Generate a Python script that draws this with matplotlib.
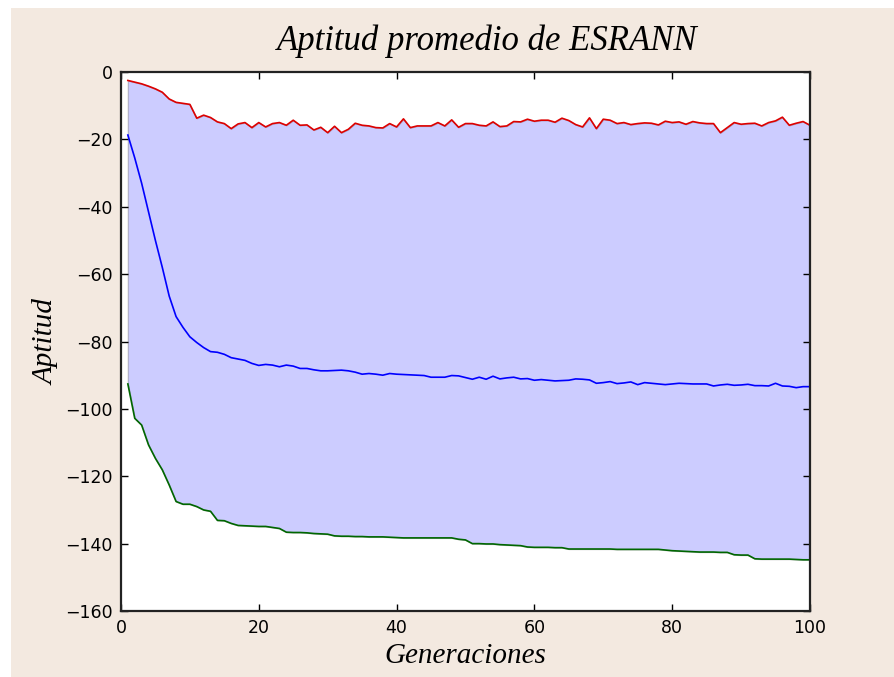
import matplotlib
matplotlib.use('Agg')
import matplotlib.pyplot as plt
from matplotlib.patches import Rectangle

generaciones = list(range(1, 101))

aptitud_max = [
    -2.5, -3.0, -3.5, -4.2, -5.0, -6.0, -8.0, -9.0, -9.3, -9.6,
    -13.7, -12.8, -13.5, -14.8, -15.3, -16.8, -15.4, -15.0, -16.5, -15.0,
    -16.3, -15.3, -15.0, -15.8, -14.3, -15.8, -15.7, -17.2, -16.4, -18.0,
    -16.1, -18.0, -17.0, -15.2, -15.8, -16.0, -16.5, -16.6, -15.3, -16.3,
    -13.9, -16.5, -16.0, -16.0, -16.0, -15.0, -16.0, -14.2, -16.4, -15.3,
    -15.3, -15.8, -16.0, -14.8, -16.2, -16.0, -14.7, -14.8, -14.0, -14.6,
    -14.3, -14.3, -14.9, -13.7, -14.4, -15.6, -16.3, -13.6, -16.8, -14.0,
    -14.3, -15.3, -15.0, -15.6, -15.3, -15.1, -15.2, -15.7, -14.6, -15.0,
    -14.8, -15.5, -14.7, -15.1, -15.3, -15.3, -18.0, -16.5, -15.0, -15.5,
    -15.3, -15.2, -16.0, -15.0, -14.5, -13.4, -15.8, -15.2, -14.7, -15.8,
]

aptitud_media = [
    -18.7, -25.5, -33.0, -41.5, -50.0, -58.0, -66.5, -72.6, -75.8, -78.6,
    -80.3, -81.8, -83.0, -83.2, -83.8, -84.8, -85.2, -85.6, -86.5, -87.1,
    -86.8, -87.0, -87.5, -87.0, -87.3, -88.0, -88.0, -88.4, -88.7, -88.7,
    -88.6, -88.5, -88.7, -89.1, -89.7, -89.5, -89.7, -90.0, -89.5, -89.7,
    -89.8, -89.9, -90.0, -90.1, -90.6, -90.6, -90.6, -90.1, -90.2, -90.7,
    -91.2, -90.6, -91.2, -90.3, -91.1, -90.8, -90.6, -91.1, -91.0, -91.5,
    -91.3, -91.5, -91.7, -91.6, -91.5, -91.1, -91.2, -91.4, -92.4, -92.2,
    -91.9, -92.5, -92.3, -92.0, -92.8, -92.2, -92.4, -92.6, -92.8, -92.6,
    -92.4, -92.5, -92.6, -92.6, -92.6, -93.2, -92.9, -92.7, -93.0, -92.9,
    -92.7, -93.1, -93.1, -93.2, -92.4, -93.2, -93.3, -93.7, -93.4, -93.4,
]

aptitud_min = [
    -92.6, -102.8, -104.8, -110.7, -114.7, -118.1, -122.6, -127.5, -128.3, -128.3,
    -129.0, -130.0, -130.4, -133.1, -133.2, -134.0, -134.6, -134.7, -134.8, -134.9,
    -134.9, -135.2, -135.5, -136.6, -136.7, -136.7, -136.8, -137.0, -137.1, -137.2,
    -137.7, -137.8, -137.8, -137.9, -137.9, -138.0, -138.0, -138.0, -138.1, -138.2,
    -138.3, -138.3, -138.3, -138.3, -138.3, -138.3, -138.3, -138.3, -138.7, -138.9,
    -140.0, -140.0, -140.1, -140.1, -140.3, -140.4, -140.5, -140.6, -141.0, -141.1,
    -141.1, -141.1, -141.2, -141.2, -141.6, -141.6, -141.6, -141.6, -141.6, -141.6,
    -141.6, -141.7, -141.7, -141.7, -141.7, -141.7, -141.7, -141.7, -141.9, -142.1,
    -142.2, -142.3, -142.4, -142.5, -142.5, -142.5, -142.6, -142.6, -143.3, -143.4,
    -143.4, -144.5, -144.6, -144.6, -144.6, -144.6, -144.6, -144.7, -144.8, -144.8,
]

xticks = [0, 20, 40, 60, 80, 100]
yticks = [0, -20, -40, -60, -80, -100, -120, -140, -160]

fondo = '#f3e9e0'
serif = ['Liberation Serif', 'DejaVu Serif']

fig = plt.figure(figsize=(8.94, 6.77), dpi=100, facecolor='white')
# beige panel behind everything, leaving a thin white strip top and left
fig.patches.append(Rectangle((11 / 894, 0), 1 - 11 / 894, 1 - 8 / 677,
                             transform=fig.transFigure, facecolor=fondo,
                             edgecolor='none', zorder=-10))

ax = fig.add_axes([0.1353, 0.0975, 0.7707, 0.7961])
ax.fill_between(generaciones, aptitud_min, aptitud_max, facecolor='blue',
                edgecolor='black', alpha=0.2, linewidth=1)
ax.plot(generaciones, aptitud_max, color='#dd0000', linewidth=1.2)
ax.plot(generaciones, aptitud_media, color='blue', linewidth=1.2)
ax.plot(generaciones, aptitud_min, color='#006600', linewidth=1.2)

ax.set_xlim(0, 100)
ax.set_ylim(-160, 0)
ax.set_xticks(xticks)
ax.set_yticks(yticks)
ax.tick_params(direction='in', length=5, width=1, labelsize=12.5,
               top=True, right=True, pad=6)
for s in ax.spines.values():
    s.set_linewidth(1.6)
    s.set_color('#222222')

ax.set_title('Aptitud promedio de ESRANN', family=serif, style='italic',
             fontsize=25, pad=16, x=0.531)
ax.set_xlabel('Generaciones', family=serif, style='italic', fontsize=21)
ax.set_ylabel('Aptitud', family=serif, style='italic', fontsize=21)

fig.savefig('out.png', dpi=100, facecolor='white')
